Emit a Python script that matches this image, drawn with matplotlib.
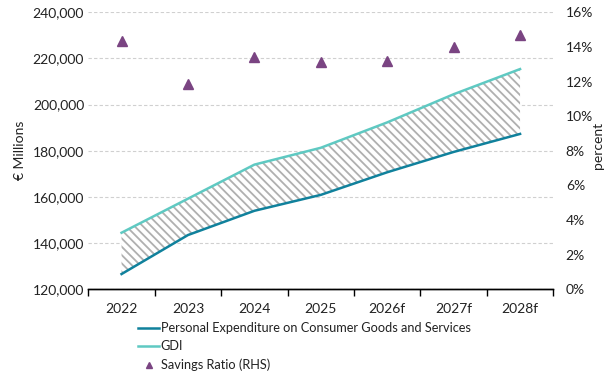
import matplotlib
matplotlib.use("Agg")
import matplotlib.pyplot as plt
from matplotlib.ticker import FuncFormatter, FixedLocator
import numpy as np

plt.rcParams['font.family'] = ['Lato', 'DejaVu Sans']
plt.rcParams['hatch.color'] = '#b0b0b0'
plt.rcParams['hatch.linewidth'] = 1.3

years = ['2022', '2023', '2024', '2025', '2026f', '2027f', '2028f']
pce = [126600, 143500, 154000, 160900, 170700, 179500, 187300]
gdi = [144500, 159250, 174000, 181300, 192300, 204500, 215400]
savings = [14.36, 11.84, 13.4, 13.13, 13.2, 14.0, 14.67]

fig = plt.figure(figsize=(6.05, 3.78), dpi=100)
ax = fig.add_axes([0.146, 0.2347, 0.7685, 0.7328])
ax2 = ax.twinx()

x = np.arange(len(years))
ax.fill_between(x, pce, gdi, facecolor='white', edgecolor='#b0b0b0', hatch='\\\\\\\\', linewidth=0, zorder=2)
l1, = ax.plot(x, pce, color='#10819c', lw=1.8, zorder=3,
              label='Personal Expenditure on Consumer Goods and Services')
l2, = ax.plot(x, gdi, color='#5fc9c2', lw=1.8, zorder=3, label='GDI')
s1, = ax2.plot(x, savings, ls='none', marker='^', ms=7.5, color='#7a4482',
               label='Savings Ratio (RHS)')

ax.set_xlim(-0.5, len(years) - 0.5)
ax.set_ylim(120000, 240000)
ax.set_yticks(np.arange(120000, 240001, 20000))
ax.yaxis.set_major_formatter(FuncFormatter(lambda v, p: f'{int(v):,}'))
ax2.set_ylim(0, 16)
ax2.set_yticks(np.arange(0, 17, 2))
ax2.yaxis.set_major_formatter(FuncFormatter(lambda v, p: f'{int(v)}%'))

ax.set_xticks(x)
ax.set_xticklabels(years)
ax.xaxis.set_minor_locator(FixedLocator(np.arange(-0.5, len(years), 1.0)))
ax.tick_params(axis='x', which='major', length=0, pad=10, labelsize=10, colors='#222222')
ax.tick_params(axis='x', which='minor', length=5, width=1, direction='out', color='black')
ax.tick_params(axis='y', length=0, labelsize=10, colors='#222222', pad=3)
ax2.tick_params(axis='y', length=0, labelsize=10, colors='#222222', pad=9)

ax.grid(axis='y', color='#d0d0d0', ls=(0, (3, 2)), lw=0.8)
ax.set_axisbelow(True)
for a in (ax, ax2):
    for s in ('top', 'left', 'right'):
        a.spines[s].set_visible(False)
    a.spines['bottom'].set_color('black')
    a.spines['bottom'].set_linewidth(1)

ax.set_ylabel('€ Millions', fontsize=10, color='#222222')
ax.yaxis.set_label_coords(-0.135, 0.5)
ax2.set_ylabel('percent', fontsize=10, color='#222222')
ax2.yaxis.set_label_coords(1.083, 0.52)

leg = fig.legend(handles=[l1, l2, s1], loc='upper left', bbox_to_anchor=(0.218, 0.165),
                 frameon=False, fontsize=9.2, handlelength=1.6, handletextpad=0.15,
                 labelspacing=0.5, borderpad=0, markerscale=0.55)
for t in leg.get_texts():
    t.set_color('#222222')

fig.savefig('out.png', dpi=100)
